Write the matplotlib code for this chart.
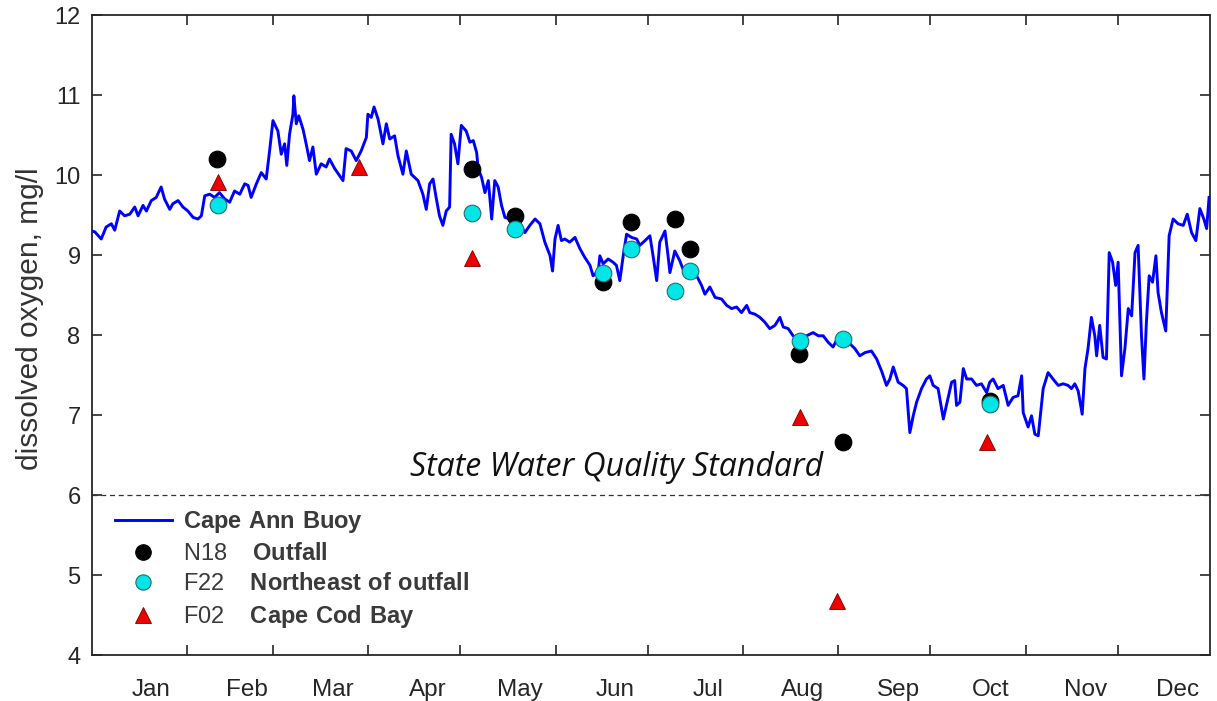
import matplotlib
matplotlib.use("Agg")
import matplotlib.pyplot as plt
from matplotlib.lines import Line2D

plt.rcParams['font.family'] = ['Liberation Sans', 'DejaVu Sans']
plt.rcParams['mathtext.fontset'] = 'custom'
plt.rcParams['mathtext.rm'] = 'Liberation Sans'
plt.rcParams['mathtext.bf'] = 'Liberation Sans:bold'

# ---- Cape Ann Buoy (day of year, mg/l) ----
buoy_day = [0, 1, 3.1, 4.7, 6.4, 7.5, 9.1, 10.7, 12.4, 14.0, 15.1, 16.7, 17.8, 19.4, 21.0, 22.6, 23.7,
            25.4, 26.4, 28.1, 29.7, 31.3, 33.0, 34.6, 35.7, 36.8, 38.4, 40.0, 41.6, 43.3, 44.9, 46.5,
            48.2, 49.8, 50.9, 51.9, 53.6, 55.2, 56.8, 57.9, 59.0, 60.6, 61.7, 62.8, 63.5, 64.4, 65.5,
            65.8, 66.6, 67.4, 68.8, 69.8, 70.9, 72.0, 73.1, 74.7, 76.3, 77.4, 79.1, 80.7, 81.8, 82.8,
            84.5, 86.1, 87.7, 89.4, 89.9, 91.0, 91.9, 93.2, 94.8, 95.9, 97.0, 98.6, 99.7, 101.3, 102.4,
            104.0, 106.2, 107.8, 108.9, 110.0, 111.1, 112.1, 113.2, 114.3, 115.4, 116.5, 117.0, 118.1,
            119.2, 120.3, 121.9, 123.1, 124.2, 125.3, 125.8, 126.9, 128.0, 129.1, 130.2, 131.2, 132.3,
            133.4, 134.5, 136.1, 137.7, 139.4, 141.0, 142.6, 144.3, 145.9, 147.5, 149.2, 150.0, 150.8,
            151.8, 152.9, 154.0, 155.6, 157.3, 158.9, 160.5, 162.2, 163.2, 164.9, 165.4, 166.5, 168.1,
            169.7, 170.8, 171.9, 173.0, 174.1, 175.7, 177.4, 178.4, 180.1, 181.7, 182.8, 183.9, 184.9,
            186.6, 187.6, 188.2, 189.8, 191.4, 192.5, 194.7, 196.9, 198.5, 199.6, 201.2, 202.9, 205.0,
            206.7, 208.3, 209.9, 211.5, 213.2, 214.2, 215.9, 217.5, 219.1, 220.7, 222.4, 224.0, 225.1,
            226.7, 228.3, 230.5, 232.7, 234.8, 236.5, 238.1, 239.7, 241.3, 242.4, 246.8, 248.4, 250.0,
            251.7, 253.8, 255.5, 257.1, 258.7, 259.8, 260.9, 262.5, 264.1, 265.2, 266.3, 267.4, 268.5,
            270.1, 271.7, 272.8, 273.9, 275.5, 277.2, 278.8, 279.9, 280.9, 281.5, 282.6, 283.7, 284.8,
            286.4, 288.0, 289.6, 291.3, 292.3, 293.4, 295.0, 296.7, 298.3, 299.9, 301.5, 302.7, 303.2,
            304.8, 305.9, 307.0, 308.1, 309.7, 311.3, 312.9, 314.6, 316.2, 317.8, 318.9, 320.0, 321.1,
            322.4, 323.3, 324.3, 325.4, 326.5, 327.1, 328.1, 329.2, 330.3, 331.2, 332.3, 333.3, 334.1,
            335.2, 336.3, 337.4, 338.5, 339.6, 340.6, 341.7, 342.5, 343.3, 344.2, 345.3, 346.4, 347.1,
            348.2, 349.6, 350.7, 352.0, 353.6, 355.3, 356.6, 358.0, 359.4, 360.7, 362.0, 362.9, 363.7]
buoy_do = [9.30, 9.29, 9.20, 9.35, 9.39, 9.31, 9.55, 9.49, 9.51, 9.60, 9.49, 9.62, 9.55, 9.68, 9.72, 9.85, 9.70,
           9.57, 9.64, 9.68, 9.60, 9.55, 9.47, 9.45, 9.49, 9.74, 9.76, 9.72, 9.78, 9.70, 9.66, 9.80,
           9.76, 9.89, 9.87, 9.72, 9.89, 10.03, 9.95, 10.30, 10.68, 10.55, 10.26, 10.39, 10.12, 10.51, 10.76,
           10.99, 10.64, 10.74, 10.57, 10.39, 10.18, 10.35, 10.01, 10.14, 10.10, 10.20, 10.08, 9.99, 9.93, 10.33,
           10.30, 10.18, 10.30, 10.47, 10.76, 10.72, 10.85, 10.70, 10.39, 10.64, 10.45, 10.49, 10.24, 10.01, 10.30,
           10.01, 9.93, 9.76, 9.57, 9.89, 9.95, 9.72, 9.49, 9.37, 9.55, 9.60, 10.51, 10.39,
           10.14, 10.62, 10.55, 10.41, 10.43, 10.28, 10.08, 9.97, 9.78, 9.93, 9.45, 9.93, 9.85,
           9.62, 9.47, 9.45, 9.41, 9.39, 9.28, 9.37, 9.45, 9.39, 9.16, 8.99, 8.80, 9.20,
           9.37, 9.18, 9.20, 9.16, 9.22, 9.08, 8.97, 8.87, 8.74, 8.80, 8.99, 8.89, 8.95,
           8.91, 8.87, 8.68, 8.99, 9.26, 9.22, 9.20, 9.12, 9.18, 9.24, 8.97, 8.68, 9.16,
           9.30, 8.99, 8.78, 9.05, 8.93, 8.82, 8.74, 8.74, 8.62, 8.51, 8.60, 8.47, 8.45,
           8.37, 8.33, 8.35, 8.28, 8.37, 8.28, 8.26, 8.22, 8.16, 8.08, 8.12, 8.22, 8.10,
           8.08, 7.99, 7.93, 7.99, 8.03, 7.99, 7.99, 7.91, 7.85, 7.93, 7.89, 7.83, 7.74,
           7.78, 7.80, 7.70, 7.55, 7.37, 7.45, 7.60, 7.41, 7.37, 7.33, 6.78, 6.99, 7.16,
           7.33, 7.45, 7.49, 7.37, 7.33, 6.95, 7.22, 7.41, 7.43, 7.12, 7.16, 7.58, 7.45,
           7.45, 7.37, 7.39, 7.28, 7.41, 7.45, 7.33, 7.37, 7.12, 7.22, 7.24, 7.49, 7.03,
           6.85, 6.99, 6.76, 6.74, 7.33, 7.53, 7.45, 7.37, 7.39, 7.37, 7.33, 7.39, 7.30,
           7.01, 7.58, 7.83, 8.22, 7.99, 7.74, 8.12, 7.72, 7.70, 9.03, 8.91, 8.62, 8.91,
           7.49, 7.83, 8.33, 8.24, 9.03, 9.12, 7.99, 7.45, 8.16, 8.74, 8.66, 8.99, 8.53,
           8.28, 8.05, 9.24, 9.45, 9.39, 9.37, 9.51, 9.28, 9.18, 9.58, 9.45, 9.33, 9.72]

# ---- Station surveys ----
n18_day = [40.8, 123.7, 137.7, 166.5, 175.7, 189.8, 194.7, 230.3, 244.6, 292.3]
n18_do = [10.20, 10.08, 9.49, 8.66, 9.41, 9.45, 9.08, 7.76, 6.66, 7.18]
f22_day = [41.1, 123.7, 137.7, 166.5, 175.7, 189.8, 194.7, 230.5, 244.6, 292.3]
f22_do = [9.63, 9.53, 9.33, 8.78, 9.08, 8.55, 8.80, 7.93, 7.95, 7.14]
f02_day = [41.1, 86.9, 123.7, 230.7, 242.6, 291.5]
f02_do = [9.91, 10.10, 8.96, 6.97, 4.68, 6.66]

standard_do = 6.0
month_names = ['Jan', 'Feb', 'Mar', 'Apr', 'May', 'Jun', 'Jul', 'Aug', 'Sep', 'Oct', 'Nov', 'Dec']
month_start = [0, 31, 59, 90, 120, 151, 181, 212, 243, 273, 304, 334]
y_ticks = [4, 5, 6, 7, 8, 9, 10, 11, 12]

W, H = 1217, 701
fig = plt.figure(figsize=(W / 100, H / 100), dpi=100)
ax = fig.add_axes([91.7 / W, 1 - 655 / H, (1210 - 91.7) / W, 640 / H])

tick_col = '#262626'
ax.plot(buoy_day, buoy_do, color='#0000ff', lw=2.1, label='Cape Ann Buoy', zorder=3)
ax.plot(n18_day, n18_do, ls='none', marker='o', ms=12, mfc='black', mec='black', mew=0.8, zorder=4)
ax.plot(f22_day, f22_do, ls='none', marker='o', ms=12, mfc='#00e5e5', mec='#2a6a6a', mew=0.8, zorder=5)
ax.plot(f02_day, f02_do, ls='none', marker='^', ms=12, mfc='#ee0000', mec='#7a0000', mew=0.6, zorder=5)

ax.axhline(standard_do, color='#333333', lw=0.9, ls=(0, (4, 3)), zorder=2)
ax.text(170.9, 6.34, 'State Water Quality Standard', family='Open Sans', style='italic',
        fontsize=23, ha='center', va='center', color='#111111')

ax.set_xlim(0, 364)
ax.set_ylim(4, 12)
ax.set_xticks(month_start[1:])
ax.set_xticklabels([])
ax.set_xticks([m + 19.5 for m in month_start], minor=True)
ax.set_xticklabels(month_names, minor=True)
ax.tick_params(axis='x', which='major', direction='in', length=7, width=1.2, top=True, color=tick_col)
ax.tick_params(axis='x', which='minor', length=0, pad=17, labelsize=17.5, labelcolor=tick_col)
ax.set_yticks(y_ticks)
ax.tick_params(axis='y', direction='in', length=7, width=1.2, right=True, color=tick_col,
               labelsize=17, labelcolor=tick_col, pad=8)
for s in ax.spines.values():
    s.set_color(tick_col)
    s.set_linewidth(1.3)
ax.set_ylabel('dissolved oxygen, mg/l', fontsize=21.5, color='#333333')
ax.yaxis.set_label_coords(-0.043, 0.525)

handles = [Line2D([], [], color='#0000ff', lw=2.1),
           Line2D([], [], ls='none', marker='o', ms=11, mfc='black', mec='black'),
           Line2D([], [], ls='none', marker='o', ms=11, mfc='#00e5e5', mec='#2a6a6a', mew=0.8),
           Line2D([], [], ls='none', marker='^', ms=11, mfc='#ee0000', mec='#7a0000', mew=0.6)]
labels = [r'$\mathbf{Cape\ Ann\ Buoy}$',
          r'N18    $\mathbf{Outfall}$',
          r'F22    $\mathbf{Northeast\ of\ outfall}$',
          r'F02    $\mathbf{Cape\ Cod\ Bay}$']
leg = ax.legend(handles, labels, loc='upper left', bbox_to_anchor=(0.0208, 0.228), frameon=False,
                fontsize=17, handlelength=2.4, handletextpad=0.5, labelspacing=0.34,
                borderpad=0, borderaxespad=0)
for t in leg.get_texts():
    t.set_color('#3a3a3a')

fig.savefig('out.png', dpi=100, facecolor='white')
